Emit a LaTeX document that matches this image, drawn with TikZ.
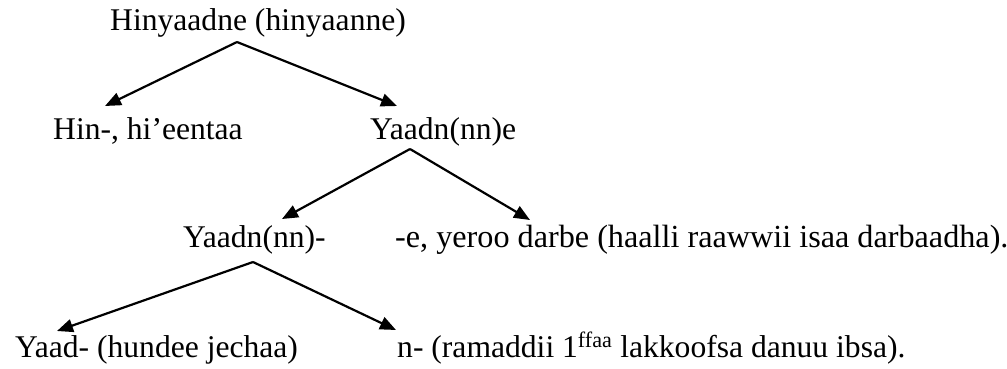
\documentclass[tikz,border=0pt]{standalone}
\usepackage{fontspec}
\setmainfont{Liberation Serif}
\usetikzlibrary{arrows.meta}
\begin{document}
\begin{tikzpicture}[x=1pt,y=-1pt,
  lbl/.style={anchor=base west,inner sep=0pt,font=\fontsize{31.6}{36}\selectfont},
  arr/.style={line width=2.2pt,-{Triangle[length=16pt,width=13pt]}}]
\useasboundingbox (0,0) rectangle (1007,369);
\node[lbl] (root) at (110,31) {Hinyaadne (hinyaanne)};
\node[lbl] (hin) at (53,139) {Hin-, hi’eentaa};
\node[lbl] (yaadne) at (370,139) {Yaadn(nn)e};
\node[lbl] (yaadn) at (183,247) {Yaadn(nn)-};
\node[lbl,font=\fontsize{32.2}{36}\selectfont] (e) at (395,247) {-e, yeroo darbe (haalli raawwii isaa darbaadha).};
\node[lbl] (yaad) at (15,357) {Yaad- (hundee jechaa)};
\node[lbl] (n) at (397,357) {n- (ramaddii 1\textsuperscript{ffaa} lakkoofsa danuu ibsa).};
\coordinate (a1) at (237,42);
\coordinate (t1l) at (105,106);
\coordinate (t1r) at (397,106);
\coordinate (a2) at (410,149);
\coordinate (t2l) at (282,219);
\coordinate (t2r) at (530,220);
\coordinate (a3) at (253,262);
\coordinate (t3l) at (57,331);
\coordinate (t3r) at (396,330);
\draw[arr] (a1) -- (t1l);
\draw[arr] (a1) -- (t1r);
\draw[arr] (a2) -- (t2l);
\draw[arr] (a2) -- (t2r);
\draw[arr] (a3) -- (t3l);
\draw[arr] (a3) -- (t3r);
\end{tikzpicture}
\end{document}
